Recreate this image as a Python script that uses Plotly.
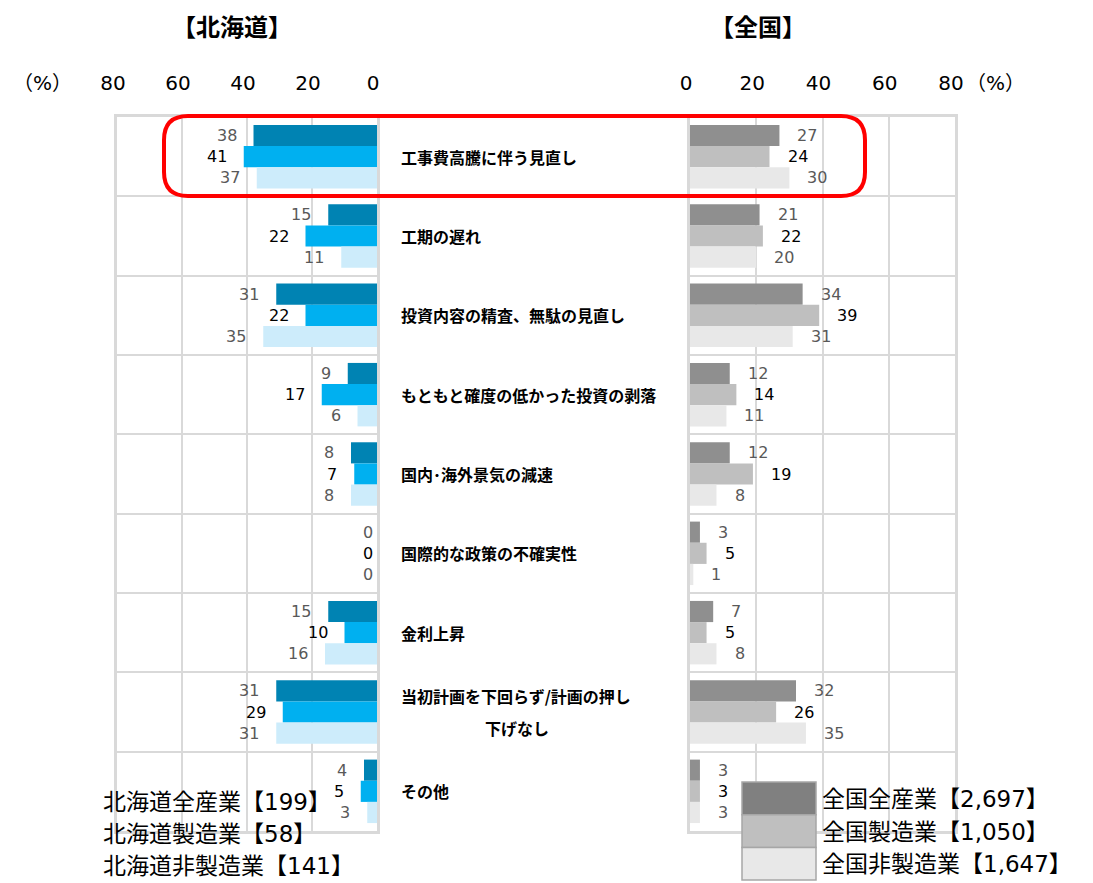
import plotly.graph_objects as go

categories = ['工事費高騰に伴う見直し', '工期の遅れ', '投資内容の精査、無駄の見直し',
              'もともと確度の低かった投資の剥落', '国内･海外景気の減速', '国際的な政策の不確実性',
              '金利上昇', '当初計画を下回らず/計画の押し<br>下げなし', 'その他']
hokkaido_all = [38, 15, 31, 9, 8, 0, 15, 31, 4]
hokkaido_mfg = [41, 22, 22, 17, 7, 0, 10, 29, 5]
hokkaido_nonmfg = [37, 11, 35, 6, 8, 0, 16, 31, 3]
national_all = [27, 21, 34, 12, 12, 3, 7, 32, 3]
national_mfg = [24, 22, 39, 14, 19, 5, 5, 26, 3]
national_nonmfg = [30, 20, 31, 11, 8, 1, 8, 35, 3]
x_ticks = [0, 20, 40, 60, 80]
hokkaido_names = ['北海道全産業【199】', '北海道製造業【58】', '北海道非製造業【141】']
national_names = ['全国全産業【2,697】', '全国製造業【1,050】', '全国非製造業【1,647】']

W, H = 1093, 883
OFF = 8  # page body margin
def px(x): return (x - OFF) / W
def py(y): return 1 - (y - OFF) / H

JP = 'Noto Sans CJK JP'
NUM = 'DejaVu Sans, Noto Sans CJK JP'
GRID = '#d9d9d9'
hk_colors = ['#0083b3', '#00b0f0', '#cdecfb']
nt_colors = ['#8f8f8f', '#bfbfbf', '#e8e8e8']
nt_swatch = ['#808080', '#bfbfbf', '#e8e8e8']
label_colors = ['#595959', '#000000', '#595959']

BARGAP = 0.2
bw = (1 - BARGAP) / 3
ypos = list(range(len(categories)))

fig = go.Figure()
annotations = []
hk_series = [hokkaido_all, hokkaido_mfg, hokkaido_nonmfg]
nt_series = [national_all, national_mfg, national_nonmfg]
for k in range(3):
    fig.add_trace(go.Bar(x=hk_series[k], y=ypos, orientation='h', name=hokkaido_names[k],
                         marker=dict(color=hk_colors[k], line_width=0), xaxis='x', yaxis='y'))
    fig.add_trace(go.Bar(x=nt_series[k], y=ypos, orientation='h', name=national_names[k],
                         marker=dict(color=nt_colors[k], line_width=0), xaxis='x2', yaxis='y2'))
    for i in ypos:
        off = (k - 1) * bw
        v = hk_series[k][i]
        annotations.append(dict(x=v, y=i + off, xref='x', yref='y', text=str(v), showarrow=False,
                                xanchor='right', xshift=-15 if v else -2,
                                font=dict(family=NUM, size=16, color=label_colors[k])))
        v = nt_series[k][i]
        annotations.append(dict(x=v, y=i + off, xref='x2', yref='y2', text=str(v), showarrow=False,
                                xanchor='left', xshift=16,
                                font=dict(family=NUM, size=16, color=label_colors[k])))

# category labels in the middle (wrapped ones: 2nd line centred under the 1st)
LBL = 16
for i, c in enumerate(categories):
    lines = c.split('<br>')
    if len(lines) == 1:
        annotations.append(dict(x=px(399), y=i, xref='paper', yref='y', text='<b>%s</b>' % c,
                                showarrow=False, xanchor='left',
                                font=dict(family=JP, size=LBL, color='#000000')))
    else:
        w1 = sum(0.5 if ord(ch) < 128 else 1 for ch in lines[0]) * LBL
        annotations.append(dict(x=px(399), y=i, xref='paper', yref='y', text='<b>%s</b>' % lines[0],
                                showarrow=False, xanchor='left', yshift=16,
                                font=dict(family=JP, size=LBL, color='#000000')))
        annotations.append(dict(x=px(401 + w1 / 2), y=i, xref='paper', yref='y',
                                text='<b>%s</b>' % lines[1], showarrow=False, xanchor='center',
                                yshift=-16, font=dict(family=JP, size=LBL, color='#000000')))

# titles and unit marks
annotations += [
    dict(x=px(232), y=py(25), text='<b>【北海道】</b>', font=dict(family=JP, size=24, color='#000')),
    dict(x=px(758), y=py(25), text='<b>【全国】</b>', font=dict(family=JP, size=24, color='#000')),
    dict(x=px(42), y=py(83), text='（%）', font=dict(family=NUM, size=20, color='#000')),
    dict(x=px(995), y=py(83), text='（%）', font=dict(family=NUM, size=20, color='#000')),
]
for a in annotations[-4:]:
    a.update(xref='paper', yref='paper', showarrow=False, xanchor='center', yanchor='middle')

# legends
shapes = []
for k in range(3):
    annotations.append(dict(x=px(101), y=py(802 + 32 * k), xref='paper', yref='paper',
                            text=hokkaido_names[k], showarrow=False, xanchor='left',
                            yanchor='middle', font=dict(family=NUM, size=23, color='#000')))
    y0 = 782 + 32.7 * k
    shapes.append(dict(type='rect', xref='paper', yref='paper', x0=px(742), x1=px(816),
                       y0=py(y0), y1=py(y0 + 32.7), fillcolor=nt_swatch[k],
                       line=dict(color='#a6a6a6', width=1.5)))
    annotations.append(dict(x=px(820), y=py(y0 + 17), xref='paper', yref='paper',
                            text=national_names[k], showarrow=False, xanchor='left',
                            yanchor='middle', font=dict(family=NUM, size=23, color='#000')))

# red highlight box
x0, x1, y0, y1, r = px(164), px(865), py(116), py(196), 24
rx, ry = r / W, r / H
path = (f'M {x0 + rx},{y0} L {x1 - rx},{y0} Q {x1},{y0} {x1},{y0 - ry} '
        f'L {x1},{y1 + ry} Q {x1},{y1} {x1 - rx},{y1} L {x0 + rx},{y1} '
        f'Q {x0},{y1} {x0},{y1 + ry} L {x0},{y0 - ry} Q {x0},{y0} {x0 + rx},{y0} Z')
shapes.append(dict(type='path', xref='paper', yref='paper', path=path,
                   line=dict(color='#ff0000', width=4)))

xcommon = dict(tickvals=x_ticks, side='top', showgrid=True, gridcolor=GRID, gridwidth=2,
               zeroline=False, showline=True, mirror=True, linecolor=GRID, linewidth=2.5,
               ticks='', ticklabelstandoff=16, automargin=False,
               tickfont=dict(family=NUM, size=20, color='#000'))
ycommon = dict(range=[8.5, -0.5], tickvals=[i - 0.5 for i in range(10)], showticklabels=False,
               showgrid=True, gridcolor=GRID, gridwidth=2, zeroline=False, showline=True,
               mirror=True, linecolor=GRID, linewidth=2.5, ticks='', automargin=False,
               domain=[py(831), py(117)])

fig.update_layout(
    width=W, height=H, margin=dict(l=0, r=0, t=0, b=0, autoexpand=False),
    paper_bgcolor='white', plot_bgcolor='white', showlegend=False,
    barmode='group', bargap=BARGAP, bargroupgap=0,
    xaxis=dict(xcommon, range=[80, 0], domain=[px(117), px(377)], anchor='y', ticklabelshift=4),
    xaxis2=dict(xcommon, range=[0, 80], domain=[px(690), px(955)], anchor='y2', ticklabelshift=-4),
    yaxis=dict(ycommon, anchor='x'),
    yaxis2=dict(ycommon, anchor='x2'),
    annotations=annotations, shapes=shapes,
)

fig.write_html('out.html')
